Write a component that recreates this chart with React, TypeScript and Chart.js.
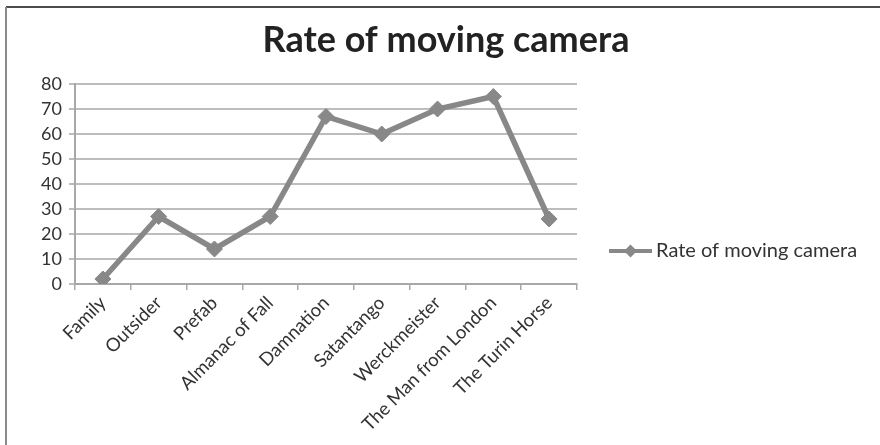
import React, { useEffect, useRef } from "react";
import { Chart, registerables } from "chart.js";

Chart.register(...registerables);

const chartTitle = "Rate of moving camera";
const seriesName = "Rate of moving camera";
const categories = [
  "Family",
  "Outsider",
  "Prefab",
  "Almanac of Fall",
  "Damnation",
  "Satantango",
  "Werckmeister",
  "The Man from London",
  "The Turin Horse",
];
const values = [2, 27, 14, 27, 67, 60, 70, 75, 26];
const yMin = 0;
const yMax = 80;
const yStep = 10;

const FONT = "Lato, 'Open Sans', sans-serif";
const LINE_COLOR = "#888888";
const TEXT_COLOR = "#333333";
const GRID_COLOR = "#bdbdbd";

const decorPlugin = {
  id: "decor",
  beforeDraw(chart: any) {
    const ctx = chart.ctx;
    ctx.save();
    ctx.fillStyle = "#ffffff";
    ctx.fillRect(0, 0, chart.width, chart.height);
    ctx.restore();
  },
  afterDraw(chart: any) {
    const ctx = chart.ctx;
    const area = chart.chartArea;
    ctx.save();
    // frame
    ctx.strokeStyle = "#111111";
    ctx.lineWidth = 1.5;
    ctx.beginPath();
    ctx.moveTo(6, 7);
    ctx.lineTo(chart.width, 7);
    ctx.stroke();
    ctx.strokeStyle = "#8a8a8a";
    ctx.lineWidth = 2;
    ctx.beginPath();
    ctx.moveTo(6, 7);
    ctx.lineTo(6, chart.height);
    ctx.stroke();

    // title
    ctx.fillStyle = "#222222";
    ctx.font = `bold 36px ${FONT}`;
    ctx.textAlign = "center";
    ctx.textBaseline = "middle";
    ctx.fillText(chartTitle, 446, 40);

    // legend
    const ds = chart.data.datasets[0];
    const ly = 251;
    const lx0 = area.right + 32;
    const lx1 = lx0 + 43;
    ctx.strokeStyle = ds.borderColor;
    ctx.lineWidth = 4;
    ctx.beginPath();
    ctx.moveTo(lx0, ly);
    ctx.lineTo(lx1, ly);
    ctx.stroke();
    const cx = (lx0 + lx1) / 2;
    const r = 6.5;
    ctx.fillStyle = ds.borderColor;
    ctx.beginPath();
    ctx.moveTo(cx, ly - r);
    ctx.lineTo(cx + r, ly);
    ctx.lineTo(cx, ly + r);
    ctx.lineTo(cx - r, ly);
    ctx.closePath();
    ctx.fill();
    ctx.fillStyle = TEXT_COLOR;
    ctx.font = `20px ${FONT}`;
    ctx.textAlign = "left";
    ctx.textBaseline = "middle";
    ctx.fillText(ds.label, lx1 + 4, ly);
    ctx.restore();
  },
};

export default function App() {
  const ref = useRef<HTMLCanvasElement | null>(null);

  useEffect(() => {
    document.body.style.margin = "0";
    const canvas = ref.current;
    if (!canvas) return;
    const chart = new Chart(canvas, {
      type: "line",
      data: {
        labels: categories,
        datasets: [
          {
            label: seriesName,
            data: values,
            borderColor: LINE_COLOR,
            backgroundColor: LINE_COLOR,
            borderWidth: 5.5,
            pointStyle: "rectRot",
            pointRadius: 8,
            pointBackgroundColor: LINE_COLOR,
            pointBorderColor: LINE_COLOR,
            pointBorderWidth: 1,
            tension: 0,
            fill: false,
          },
        ],
      },
      options: {
        animation: false,
        responsive: false,
        maintainAspectRatio: false,
        devicePixelRatio: 1,
        layout: { padding: { top: 84, left: 0, right: 303, bottom: 0 } },
        plugins: {
          legend: { display: false },
          title: { display: false },
          tooltip: { enabled: false },
        },
        scales: {
          x: {
            type: "category",
            offset: true,
            afterFit: (scale: any) => {
              scale.height = 445 - 84 - 200;
            },
            grid: {
              display: true,
              offset: true,
              drawOnChartArea: false,
              drawTicks: true,
              tickLength: 6,
              color: "#a8a8a8",
              lineWidth: 1.5,
            },
            border: { display: true, color: "#a8a8a8", width: 2 },
            ticks: {
              maxRotation: 45,
              minRotation: 45,
              autoSkip: false,
              padding: 2,
              color: TEXT_COLOR,
              font: { family: FONT, size: 18.5 },
            },
          },
          y: {
            min: yMin,
            max: yMax,
            afterFit: (scale: any) => {
              scale.width = 75;
            },
            grid: {
              color: GRID_COLOR,
              lineWidth: 2,
              drawTicks: true,
              tickLength: 6,
            },
            border: { display: true, color: "#a8a8a8", width: 2 },
            ticks: {
              stepSize: yStep,
              padding: 7,
              color: TEXT_COLOR,
              font: { family: FONT, size: 18 },
            },
          },
        },
      },
      plugins: [decorPlugin],
    });
    return () => chart.destroy();
  }, []);

  return (
    <div style={{ position: "relative", width: 880, height: 445 }}>
      <canvas ref={ref} width={880} height={445} style={{ display: "block", width: 880, height: 445 }} />
    </div>
  );
}
